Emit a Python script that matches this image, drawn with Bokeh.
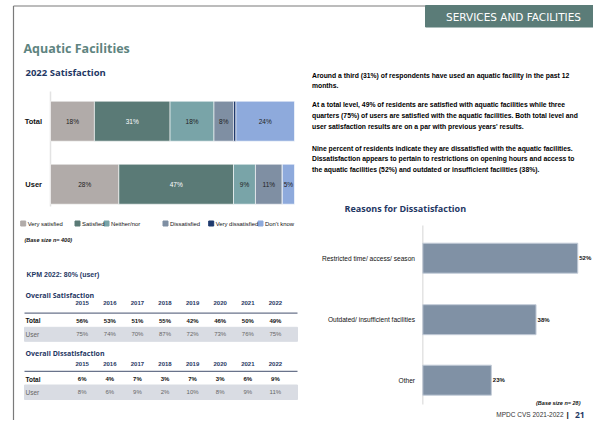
from bokeh.plotting import figure
from bokeh.models import Range1d
from bokeh.core.properties import value
from bokeh.embed import file_html
from bokeh.resources import INLINE
import numpy as np

# ---------------- data ----------------
sat_rows = ["Total", "User"]
sat_categories = ["Very satisfied", "Satisfied", "Neither/nor", "Dissatisfied",
                  "Very dissatisfied", "Don't know"]
sat_total = [18, 31, 18, 8, 1, 24]
sat_user = [28, 47, 9, 11, 0, 5]

years = ["2015", "2016", "2017", "2018", "2019", "2020", "2021", "2022"]
overall_sat_total = [56, 53, 51, 55, 42, 46, 50, 49]
overall_sat_user = [75, 74, 70, 87, 72, 73, 76, 75]
overall_dis_total = [6, 4, 7, 3, 7, 3, 6, 9]
overall_dis_user = [8, 6, 9, 2, 10, 8, 9, 11]

reasons = ["Restricted time/ access/ season", "Outdated/ insufficient facilities", "Other"]
reason_values = [52, 38, 23]

kpm_text = "KPM 2022: 80% (user)"
base_sat = "(Base size n= 400)"
base_reason = "(Base size n= 28)"

paragraphs = [
    ["Around a third (31%) of respondents have used an aquatic facility in the past 12",
     "months."],
    ["At a total level, 49% of residents are satisfied with aquatic facilities while three",
     "quarters (75%) of users are satisfied with the aquatic facilities. Both total level and",
     "user satisfaction results are on a par with previous years' results."],
    ["Nine percent of residents indicate they are dissatisfied with the aquatic facilities.",
     "Dissatisfaction appears to pertain to restrictions on opening hours and access to",
     "the aquatic facilities (52%) and outdated or insufficient facilities (38%)."],
]

# ---------------- styles ----------------
sat_colors = ["#b1aba9", "#5a7a76", "#79a4a8", "#7f8fa3", "#1f3a6e", "#8eaadc"]
NAVY = "#1f3864"
TEAL = "#5e8480"
BODY = value("'Liberation Sans', Arial, sans-serif")
HEAD = value("'Open Sans', sans-serif")

W, H = 593, 420
p = figure(width=W, height=H, x_range=Range1d(0, W), y_range=Range1d(H, 0),
           output_backend="svg", toolbar_location=None, min_border=0,
           x_axis_location=None, y_axis_location=None)
p.grid.visible = False
p.outline_line_color = None
p.background_fill_color = "white"
p.border_fill_color = "white"


def lin_range(px0, px_per_unit):
    start = -px0 / px_per_unit
    return Range1d(start, start + W / px_per_unit)


p.extra_x_ranges = {"sat": lin_range(50, 2.44), "reason": lin_range(422.3, 2.98)}

# ---------------- page frame ----------------
p.segment(x0=[13, 13], y0=[5.5, 5.5], x1=[13, 425], y1=[420, 5.5], line_color="#7a7a7a", line_width=1.2)
p.quad(left=[425], right=[W], top=[5], bottom=[26.5], color="#5b7c78")
p.text(x=[513], y=[16], text=["SERVICES AND FACILITIES"], text_color="white",
       text_font=value("'DejaVu Sans', sans-serif"), text_font_size="10.5px",
       text_align="center", text_baseline="middle")

p.text(x=[23], y=[48], text=["Aquatic Facilities"], text_color=TEAL, text_font=HEAD,
       text_font_size="12.5px", text_font_style="bold", text_baseline="middle")
p.text(x=[25], y=[72], text=["2022 Satisfaction"], text_color=NAVY, text_font=HEAD,
       text_font_size="9.5px", text_font_style="bold", text_baseline="middle")

# ---------------- stacked satisfaction bars ----------------
row_y = [120.7, 183.7]
p.segment(x0=[0], x1=[0], y0=[91], y1=[206], x_range_name="sat", line_color="#e3e3e3", line_width=1.5)
data = np.array([sat_total, sat_user], dtype=float)
cum = np.cumsum(data, axis=1)
left = cum - data
for j, cat in enumerate(sat_categories):
    p.hbar(y=row_y, left=left[:, j], right=cum[:, j], height=40, x_range_name="sat",
           fill_color=sat_colors[j], line_color="white", line_width=0.6)
lx, ly, lt, lc = [], [], [], []
for i in range(2):
    for j in range(len(sat_categories)):
        v = data[i, j]
        if v >= 3:
            lx.append(left[i, j] + v / 2)
            ly.append(row_y[i])
            lt.append(f"{int(v)}%")
            lc.append("white" if j == 1 else "#222222")
p.text(x=lx, y=ly, text=lt, text_color=lc, x_range_name="sat", text_font=BODY,
       text_font_size="6.5px", text_align="center", text_baseline="middle")
p.text(x=[41.5, 41.5], y=row_y, text=sat_rows, text_font=BODY, text_font_size="7.5px",
       text_font_style="bold", text_align="right", text_baseline="middle", text_color="#111111")

# legend
leg_sq = [22.7, 77, 106, 165, 210.7, 260]
p.scatter(x=leg_sq, y=[223] * 6, marker="square", size=5, color=sat_colors)
p.text(x=[v + 4.5 for v in leg_sq], y=[223] * 6, text=sat_categories, text_font=BODY,
       text_font_size="5.9px", text_baseline="middle", text_color="#111111")
p.text(x=[24], y=[239], text=[base_sat], text_font=BODY, text_font_size="5.5px",
       text_font_style="bold italic", text_baseline="middle", text_color="#111111")
p.text(x=[26], y=[274], text=[kpm_text], text_font=BODY, text_font_size="7px",
       text_font_style="bold", text_baseline="middle", text_color=NAVY)

# ---------------- tables ----------------
col_x = [81.7 + 27.6 * i for i in range(len(years))]


def table(title, title_y, head_y, line_y, total_y, band_top, band_bot, user_y, total_vals, user_vals):
    p.text(x=[25], y=[title_y], text=[title], text_font=HEAD, text_font_size="7px",
           text_font_style="bold", text_baseline="middle", text_color=NAVY)
    p.text(x=col_x, y=[head_y] * len(years), text=years, text_font=BODY, text_font_size="6px",
           text_font_style="bold", text_align="center", text_baseline="middle", text_color=NAVY)
    p.segment(x0=[24], x1=[297], y0=[line_y], y1=[line_y], line_color="#44506e", line_width=1)
    p.quad(left=[24], right=[297], top=[band_top], bottom=[band_bot], color="#d9dce3")
    p.text(x=[25], y=[total_y], text=["Total"], text_font=BODY, text_font_size="6.5px",
           text_font_style="bold", text_baseline="middle", text_color="#111111")
    p.text(x=col_x, y=[total_y] * len(years), text=[f"{v}%" for v in total_vals],
           text_font=BODY, text_font_size="6px", text_font_style="bold",
           text_align="center", text_baseline="middle", text_color="#111111")
    p.text(x=[25], y=[user_y], text=["User"], text_font=BODY, text_font_size="6.5px",
           text_baseline="middle", text_color="#666666")
    p.text(x=col_x, y=[user_y] * len(years), text=[f"{v}%" for v in user_vals],
           text_font=BODY, text_font_size="6px", text_align="center",
           text_baseline="middle", text_color="#666666")


table("Overall Satisfaction", 294.5, 302.8, 312.6, 320.3, 326.8, 340.8, 333.8,
      overall_sat_total, overall_sat_user)
table("Overall Dissatisfaction", 352.8, 363.3, 370.8, 378.7, 384.5, 399, 391.8,
      overall_dis_total, overall_dis_user)

# ---------------- right text ----------------
tx, ty, tt = [], [], []
para_start = [74.5, 104.3, 147.7]
for para, y0 in zip(paragraphs, para_start):
    for k, line in enumerate(para):
        tx.append(311.5)
        ty.append(y0 + 10.7 * k)
        tt.append(line)
p.text(x=tx, y=ty, text=tt, text_font=BODY, text_font_size="6.8px", text_font_style="bold",
       text_baseline="middle", text_color="#000000")

# ---------------- reasons chart ----------------
p.text(x=[344], y=[207.5], text=["Reasons for Dissatisfaction"], text_color=NAVY, text_font=HEAD,
       text_font_size="9px", text_font_style="bold", text_baseline="middle")
reason_y = [257.7, 319.2, 379.7]
p.segment(x0=[0], x1=[0], y0=[225], y1=[404], x_range_name="reason", line_color="#e3e3e3", line_width=1.5)
p.hbar(y=reason_y, left=0, right=reason_values, height=30, x_range_name="reason",
       fill_color="#8091a5", line_color="#c3ccd8", line_width=1)
p.text(x=reason_values, y=reason_y, text=[f"{v}%" for v in reason_values], x_offset=1.5,
       x_range_name="reason", text_font=BODY, text_font_size="6px", text_font_style="bold",
       text_baseline="middle", text_color="#111111")
p.text(x=[414.5] * 3, y=reason_y, text=reasons, text_font=BODY, text_font_size="6.6px",
       text_align="right", text_baseline="middle", text_color="#111111")
p.text(x=[580], y=[402.5], text=[base_reason], text_font=BODY, text_font_size="5.5px",
       text_font_style="bold italic", text_align="right", text_baseline="middle", text_color="#111111")

# footer
FY = 414
p.text(x=[563], y=[FY], text=["MPDC CVS 2021-2022"], text_font=BODY, text_font_size="6.5px",
       text_align="right", text_baseline="middle", text_color="#333333")
p.text(x=[567], y=[FY], text=["|"], text_font=BODY, text_font_size="8px", text_font_style="bold",
       text_align="center", text_baseline="middle", text_color="#222222")
p.text(x=[574.5], y=[FY], text=["21"], text_font=HEAD, text_font_size="8.5px", text_font_style="bold",
       text_baseline="middle", text_color=NAVY)

open("out.html", "w").write(file_html(p, INLINE))
